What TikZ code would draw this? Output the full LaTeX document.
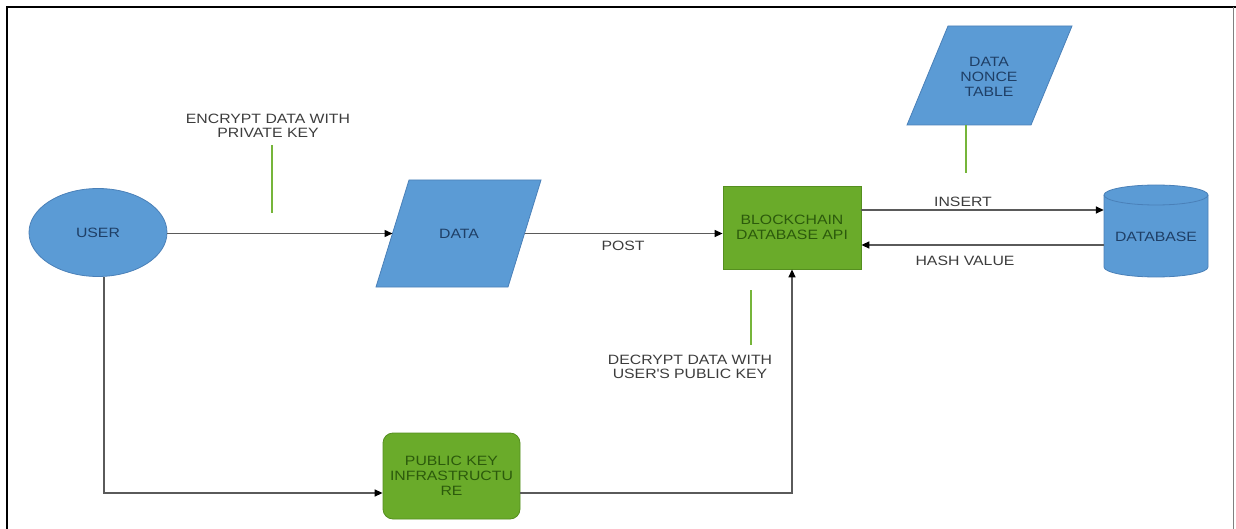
\documentclass[tikz,border=0pt]{standalone}
\usepackage{fontspec}
\setmainfont{Liberation Sans}[FakeStretch=1.17]
\usetikzlibrary{shapes.geometric,arrows.meta,calc}
\definecolor{bfill}{HTML}{5B9BD5}
\definecolor{bline}{HTML}{4A80B8}
\definecolor{btext}{HTML}{1F3F66}
\definecolor{gfill}{HTML}{6AAB2A}
\definecolor{gline}{HTML}{558F1F}
\definecolor{gtext}{HTML}{2C5A0C}
\definecolor{conngray}{HTML}{5A5A5A}
\definecolor{ltext}{HTML}{3C3C3C}
\definecolor{tickgreen}{HTML}{76B53A}
\begin{document}
\begin{tikzpicture}[x=1pt,y=-1pt,
  every node/.style={font=\fontsize{13.5}{15}\selectfont, align=center, inner sep=0pt},
  bluebox/.style={fill=bfill, draw=bline, line width=0.8pt, text=btext},
  greenbox/.style={fill=gfill, draw=gline, line width=0.8pt, text=gtext},
  bluetext/.style={text=btext},
  lab/.style={text=ltext, font=\fontsize{13.5}{14}\selectfont},
  arr/.style={draw=conngray, line width=1.4pt, -{Triangle[length=8pt,width=7pt,color=black]}},
  tickline/.style={draw=tickgreen, line width=2.5pt}
]
\useasboundingbox (0,0) rectangle (1236,529);
% frame
\draw[black, line width=2pt] (7,529) -- (7,7) -- (1236,7);
\draw[gray, line width=1pt] (1233,7) -- (1233,529);

% user
\node[ellipse, bluebox, minimum width=138pt, minimum height=88pt] (user) at (98,232.5) {USER};

% data parallelogram
\coordinate (dbl) at (376,287);
\coordinate (dtl) at (409,180);
\coordinate (dtr) at (541,180);
\coordinate (dbr) at (508,287);
\path[bluebox] (dbl) -- (dtl) -- (dtr) -- (dbr) -- cycle;
\node[bluetext] (data) at (459,233.5) {DATA};
\coordinate (datain) at ($(dbl)!0.5!(dtl)$);
\coordinate (dataout) at ($(dbr)!0.5!(dtr)$);

% blockchain
\node[greenbox, rectangle, minimum width=138pt, minimum height=83pt] (bc) at (792,227.5) {BLOCKCHAIN\\DATABASE API};

% data nonce table parallelogram
\coordinate (nbl) at (907,125);
\coordinate (ntl) at (948,26);
\coordinate (ntr) at (1072,26);
\coordinate (nbr) at (1031,125);
\path[bluebox] (nbl) -- (ntl) -- (ntr) -- (nbr) -- cycle;
\node[bluetext] (nonce) at (989,77) {DATA\\NONCE\\TABLE};

% pki
\node[greenbox, rectangle, rounded corners=10pt, minimum width=137pt, minimum height=86pt] (pki) at (451.5,476) {PUBLIC KEY\\INFRASTRUCTU\\RE};

% database cylinder
\path[fill=bfill, draw=bline, line width=0.8pt] (1104,195) -- (1104,267)
  arc[start angle=180, end angle=0, x radius=52, y radius=10] -- (1208,195)
  arc[start angle=0, end angle=-180, x radius=52, y radius=10] -- cycle;
\draw[bline, line width=0.8pt] (1104,195) arc[start angle=180, end angle=0, x radius=52, y radius=10];
\node[minimum width=104pt, minimum height=80pt, text=btext] (db) at (1156,237) {DATABASE};

% labels
\node[lab] (enc) at (268,126) {ENCRYPT DATA WITH\\PRIVATE KEY};
\node[lab] (post) at (623,246) {POST};
\node[lab] (dec) at (690,367) {DECRYPT DATA WITH\\USER\textquotesingle S PUBLIC KEY};
\node[lab] (ins) at (963,202) {INSERT};
\node[lab] (hash) at (965,261) {HASH VALUE};

% green ticks
\draw[tickline] (272,145) -- (272,213);
\draw[tickline] (751,290) -- (751,345);
\draw[tickline] (966,125) -- (966,173);

% connectors
\draw[arr] (user.east |- datain) -- (datain);
\draw[arr] (dataout) -- (dataout -| bc.west);
\draw[arr] (bc.east |- 0,210) -- (db.west |- 0,210);
\draw[arr] (db.west |- 0,245) -- (bc.east |- 0,245);
\draw[arr] (user.south -| 104,0) |- (pki.west |- 0,493);
\draw[arr] (pki.east |- 0,493) -| (bc.south);
\end{tikzpicture}
\end{document}
